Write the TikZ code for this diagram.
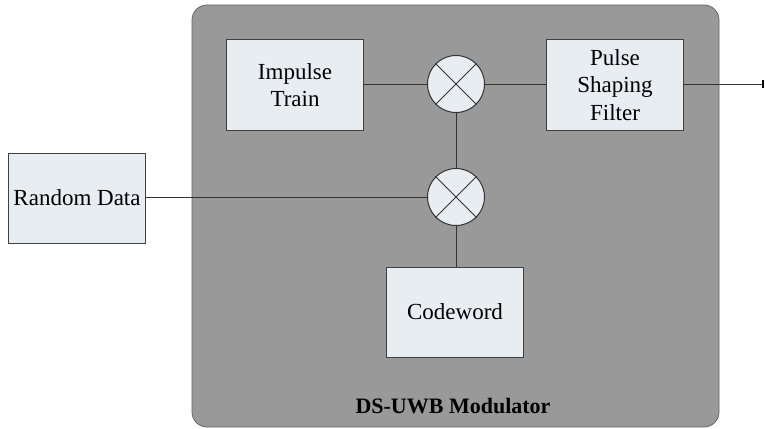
\documentclass[tikz,border=0pt]{standalone}
\usepackage{fontspec}
\setmainfont{Liberation Serif}
\begin{document}
\begin{tikzpicture}[x=1pt,y=-1pt,
  blockbox/.style={draw=black!75,line width=1pt,fill=boxfill,minimum width=137pt,minimum height=90pt,inner sep=0pt,font=\fontsize{23}{27.5}\selectfont,align=center},
  mixer/.style={draw=black!80,line width=1pt,fill=boxfill,circle,minimum size=57pt,inner sep=0pt},
  wire/.style={draw=black!80,line width=1pt}]
\definecolor{boxfill}{HTML}{E8EDF2}
\definecolor{panel}{HTML}{999999}
\useasboundingbox (0,0) rectangle (765,428);
% modulator panel
\node[draw=black!60,line width=0.8pt,fill=panel,rounded corners=15pt,minimum width=527pt,minimum height=422pt,inner sep=0pt] (panel) at (455.5,216) {};
\node[font=\bfseries\fontsize{22}{26}\selectfont] (title) at (453,406) {DS-UWB Modulator};
% blocks
\node[blockbox] (impulse) at (295,85) {Impulse\\Train};
\node[blockbox] (pulse) at (615,85) {Pulse\\Shaping\\Filter};
\node[blockbox] (random) at (77,198) {Random Data};
\node[blockbox] (code) at (455,312) {Codeword};
\node[mixer] (m1) at (456,84) {};
\node[mixer] (m2) at (456,197) {};
% crosses inside the mixers
\foreach \m in {m1,m2}{
  \draw[wire] (\m.45) -- (\m.225);
  \draw[wire] (\m.135) -- (\m.315);
}
% connections
\coordinate (out) at (763,84);
\draw[wire] (impulse.east |- m1.west) -- (m1.west);
\draw[wire] (m1.east) -- (pulse.west |- m1.east);
\draw[wire] (m1.south) -- (m2.north);
\draw[wire] (random.east |- m2.west) -- (m2.west);
\draw[wire] (m2.south) -- (code.north -| m2.south);
\draw[wire] (pulse.east |- out) -- (out);
\draw[line width=2pt] ([yshift=-4pt]out) -- ([yshift=4pt]out);
\end{tikzpicture}
\end{document}
